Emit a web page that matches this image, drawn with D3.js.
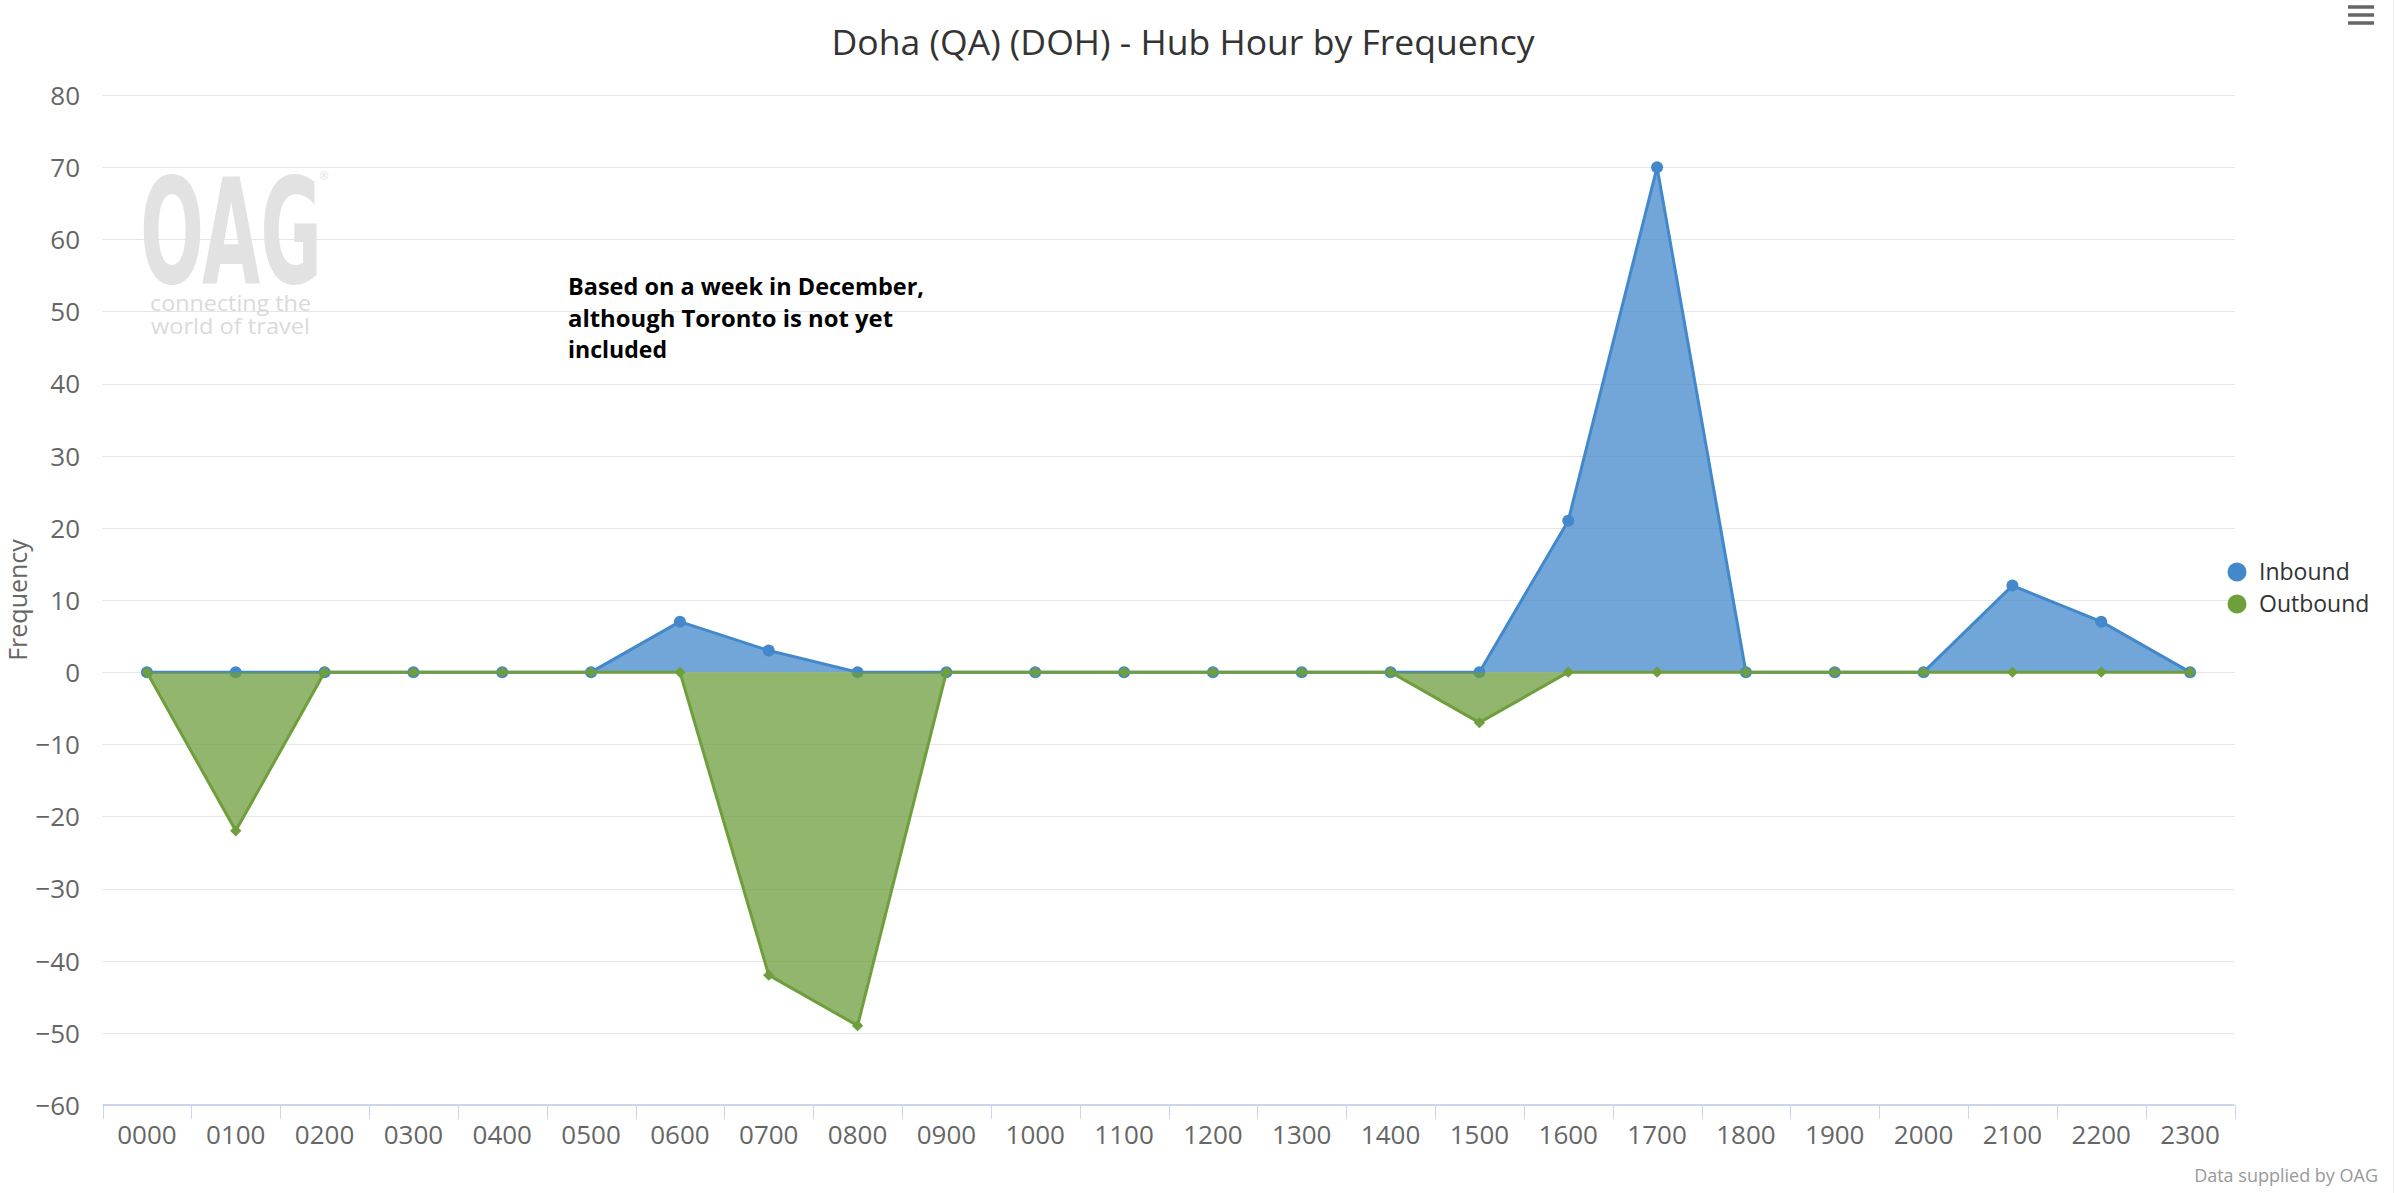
<!DOCTYPE html>
<html>
<head>
<meta charset="utf-8">
<script src="https://cdn.jsdelivr.net/npm/d3@7"></script>
<style>
  html, body { margin: 0; padding: 0; background: #ffffff; }
  svg { display: block; }
</style>
</head>
<body>
<script>
// ---- data ----
const hours = ["0000","0100","0200","0300","0400","0500","0600","0700","0800","0900","1000","1100",
               "1200","1300","1400","1500","1600","1700","1800","1900","2000","2100","2200","2300"];
const inbound  = [0,0,0,0,0,0,7,3,0,0,0,0,0,0,0,0,21,70,0,0,0,12,7,0];
const outbound = [0,-22,0,0,0,0,0,-42,-49,0,0,0,0,0,0,-7,0,0,0,0,0,0,0,0];
const yTicks = [80,70,60,50,40,30,20,10,0,-10,-20,-30,-40,-50,-60];
const seriesNames = ["Inbound","Outbound"];
const seriesColors = ["#4388cb","#6f9e3d"];
const titleText = "Doha (QA) (DOH) - Hub Hour by Frequency";
const noteLines = ["Based on a week in December,","although Toronto is not yet","included"];
const creditText = "Data supplied by OAG";
const yTitle = "Frequency";

// ---- layout ----
const W = 2396, H = 1193;
const plot = {left: 102.5, right: 2234.5, top: 95, bottom: 1105};
const font = "'Open Sans', 'Noto Sans', sans-serif";

const svg = d3.select("body").append("svg").attr("width", W).attr("height", H);

const x = d3.scaleBand().domain(hours).range([plot.left, plot.right]).padding(0);
const y = d3.scaleLinear().domain([-60, 80]).range([plot.bottom, plot.top]);
const cx = h => x(h) + x.bandwidth() / 2;

// right faint border
svg.append("line").attr("x1", 2393.5).attr("x2", 2393.5).attr("y1", 0).attr("y2", H)
  .attr("stroke", "#eeeeee").attr("stroke-width", 1);

// gridlines
svg.append("g").selectAll("line").data(yTicks.filter(t => t !== -60)).join("line")
  .attr("x1", plot.left).attr("x2", plot.right)
  .attr("y1", d => Math.round(y(d)) + 0.5).attr("y2", d => Math.round(y(d)) + 0.5)
  .attr("stroke", "#e6e6e6").attr("stroke-width", 1);

// OAG watermark
const logo = svg.append("g").attr("fill", "#e2e2e2");
logo.append("text").attr("x", 140).attr("y", 283).attr("font-family", "'DejaVu Sans', sans-serif")
  .attr("font-weight", "bold").attr("font-size", 146).attr("textLength", 182)
  .attr("lengthAdjust", "spacingAndGlyphs").text("OAG");
logo.append("text").attr("x", 324).attr("y", 180).attr("font-family", font)
  .attr("font-size", 11).attr("text-anchor", "middle").text("®");
logo.append("text").attr("x", 150).attr("y", 311).attr("font-family", font)
  .attr("font-size", 21).attr("textLength", 161).attr("lengthAdjust", "spacingAndGlyphs")
  .attr("fill", "#dadada").text("connecting the");
logo.append("text").attr("x", 151).attr("y", 334).attr("font-family", font)
  .attr("font-size", 21).attr("textLength", 159).attr("lengthAdjust", "spacingAndGlyphs")
  .attr("fill", "#dadada").text("world of travel");

// x axis
const xAxis = d3.axisBottom(x).tickSize(0).tickPadding(0);
const gx = svg.append("g").attr("transform", `translate(0,${plot.bottom})`).call(xAxis);
gx.select(".domain").attr("stroke", "#ccd6eb").attr("stroke-width", 2)
  .attr("d", `M${plot.left},0H${plot.right}`);
gx.selectAll(".tick text").attr("font-family", font).attr("font-size", 26)
  .attr("fill", "#666666").attr("dy", null).attr("y", 39);
// category boundary ticks
const bounds = hours.map(h => x(h)).concat([plot.right]);
gx.append("g").selectAll("line").data(bounds).join("line")
  .attr("x1", d => Math.round(d) + 0.5).attr("x2", d => Math.round(d) + 0.5)
  .attr("y1", 0).attr("y2", 14).attr("stroke", "#ccd6eb").attr("stroke-width", 1);

// y axis labels
const yAxis = d3.axisLeft(y).tickValues(yTicks).tickSize(0).tickPadding(0);
const gy = svg.append("g").attr("transform", `translate(80,0)`).call(yAxis);
gy.select(".domain").remove();
gy.selectAll(".tick text").attr("font-family", font).attr("font-size", 26)
  .attr("fill", "#666666").attr("x", 0).attr("dy", "0.36em");

// y title
svg.append("text").attr("transform", `translate(27,600) rotate(-90)`)
  .attr("text-anchor", "middle").attr("font-family", font).attr("font-size", 25)
  .attr("fill", "#666666").text(yTitle);

// series
const series = [inbound, outbound];
series.forEach((vals, si) => {
  const data = hours.map((h, i) => ({h, v: vals[i]}));
  const g = svg.append("g");
  const area = d3.area().x(d => cx(d.h)).y0(y(0)).y1(d => y(d.v));
  const line = d3.line().x(d => cx(d.h)).y(d => y(d.v));
  g.append("path").datum(data).attr("d", area)
    .attr("fill", seriesColors[si]).attr("fill-opacity", 0.75);
  g.append("path").datum(data).attr("d", line)
    .attr("fill", "none").attr("stroke", seriesColors[si]).attr("stroke-width", 3)
    .attr("stroke-linejoin", "round");
  if (si === 0) {
    g.selectAll("circle").data(data).join("circle")
      .attr("cx", d => cx(d.h)).attr("cy", d => y(d.v)).attr("r", 6)
      .attr("fill", seriesColors[si]);
  } else {
    g.selectAll("path.m").data(data).join("path").attr("class", "m")
      .attr("d", d3.symbol().type(d3.symbolSquare).size(64))
      .attr("transform", d => `translate(${cx(d.h)},${y(d.v)}) rotate(45)`)
      .attr("fill", seriesColors[si]);
  }
});

// annotation
const note = svg.append("g");
const noteWidths = [356, 325, 99];
noteLines.forEach((t, i) => {
  note.append("text").attr("x", 568).attr("y", 295 + i * 31.7)
    .attr("font-family", font).attr("font-weight", "bold").attr("font-size", 23)
    .attr("fill", "#000000").attr("textLength", noteWidths[i])
    .attr("lengthAdjust", "spacingAndGlyphs").text(t);
});

// title
svg.append("text").attr("x", 1183).attr("y", 55).attr("text-anchor", "middle")
  .attr("font-family", font).attr("font-size", 35).attr("fill", "#333333")
  .attr("textLength", 703).attr("lengthAdjust", "spacingAndGlyphs").text(titleText);

// legend
const legend = svg.append("g");
seriesNames.forEach((n, i) => {
  const ly = 572 + i * 32;
  legend.append("circle").attr("cx", 2237).attr("cy", ly).attr("r", 9.5).attr("fill", seriesColors[i]);
  legend.append("text").attr("x", 2259).attr("y", ly).attr("dy", "0.35em")
    .attr("font-family", font).attr("font-size", 23).attr("fill", "#333333").text(n);
});

// credits
svg.append("text").attr("x", 2378).attr("y", 1182).attr("text-anchor", "end")
  .attr("font-family", font).attr("font-size", 18).attr("fill", "#999999").text(creditText);

// menu icon
svg.append("g").selectAll("line").data([7, 15, 23]).join("line")
  .attr("x1", 2348).attr("x2", 2374).attr("y1", d => d).attr("y2", d => d)
  .attr("stroke", "#666666").attr("stroke-width", 3.5);
</script>
</body>
</html>
